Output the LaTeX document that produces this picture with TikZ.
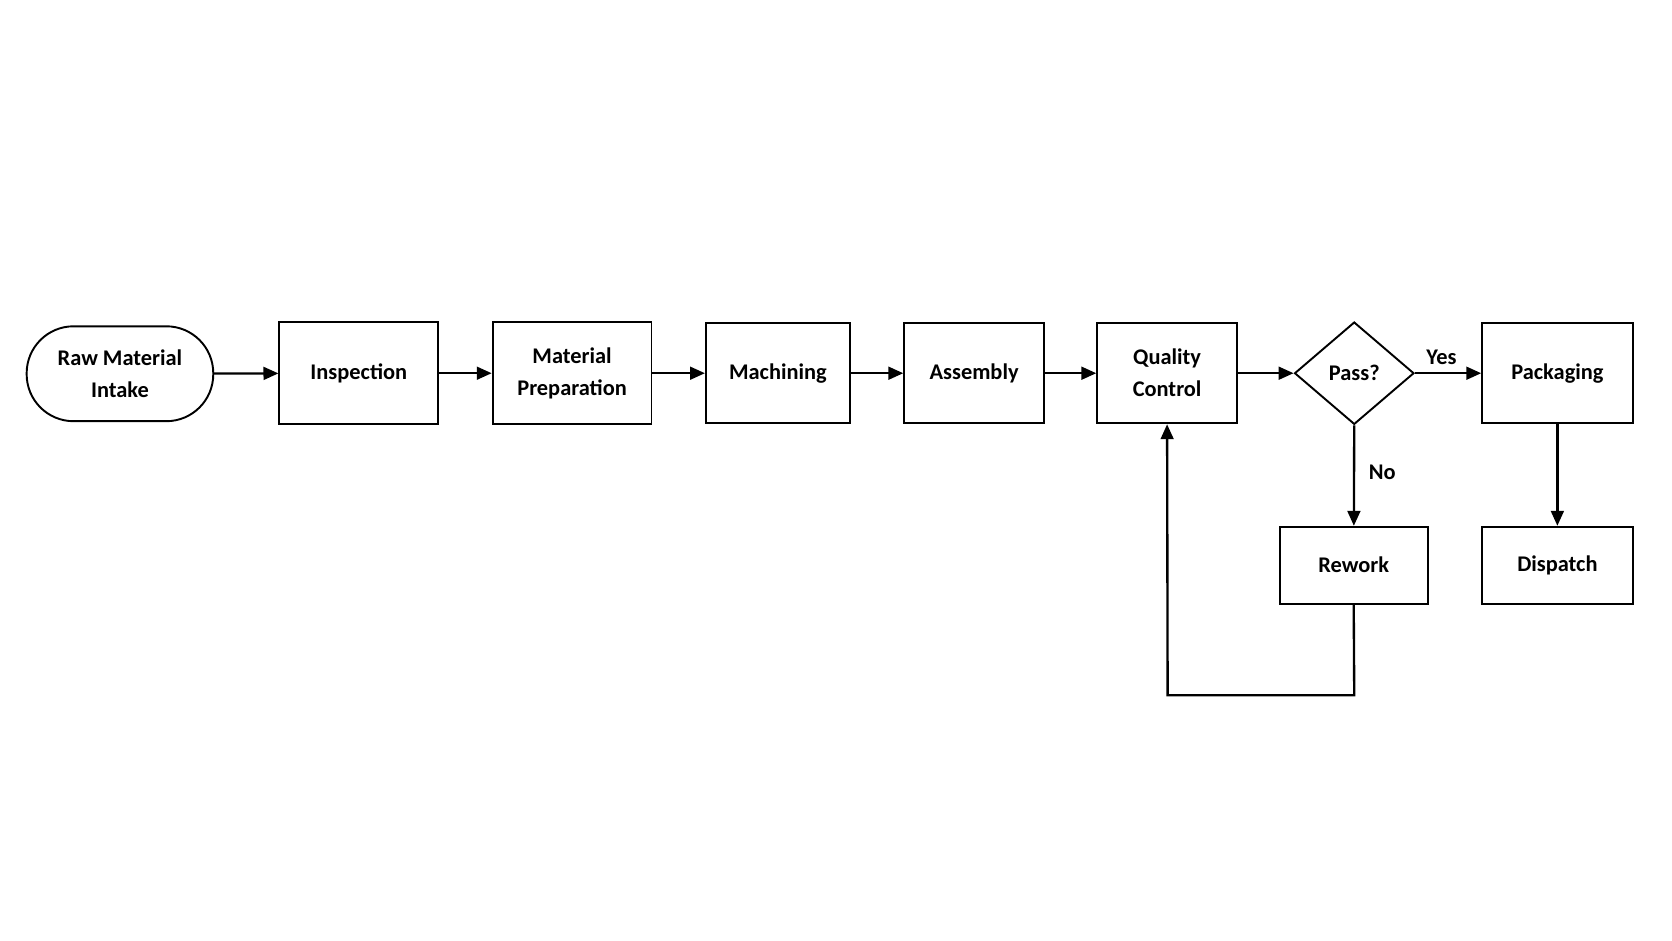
\documentclass[tikz,border=0pt]{standalone}
\usepackage{fontspec}
\setmainfont{Carlito}
\usetikzlibrary{shapes.geometric,arrows.meta}
\begin{document}
\begin{tikzpicture}[x=0.5pt,y=-0.5pt,
  box/.style={draw,line width=0.9pt,minimum width=#1,inner sep=0pt,align=center,font=\fontsize{10.5}{15}\selectfont\bfseries},
  arr/.style={line width=1.1pt,-{Triangle[length=7pt,width=6pt]}},
  lbl/.style={font=\fontsize{10.5}{13}\selectfont\bfseries}]
\useasboundingbox (0,0) rectangle (1568,882);
\fill[white] (0,0) rectangle (1568,882);
\node[box=87.5pt,minimum height=44.5pt,rounded corners=22pt] (raw) at (112.5,350.5) {Raw Material\\Intake};
\node[box=74.5pt,minimum height=48pt] (ins) at (336.5,350) {Inspection};
\node[box=74.5pt,minimum height=48pt] (prep) at (536.5,350) {Material\\Preparation};
\node[box=67.5pt,minimum height=47pt] (mach) at (729.5,350) {Machining};
\node[box=65.5pt,minimum height=47pt] (asm) at (913.5,350) {Assembly};
\node[box=65.5pt,minimum height=47pt] (qc) at (1094.5,350) {Quality\\Control};
\node[box=56pt,minimum height=48pt,diamond,aspect=1.17] (pass) at (1270,350) {};
\node[lbl] at (1270,350) {Pass?};
\node[box=70.5pt,minimum height=47pt] (pack) at (1460.5,350) {Packaging};
\node[box=69.5pt,minimum height=36pt] (rew) at (1269.5,530) {Rework};
\node[box=70.5pt,minimum height=36pt] (dis) at (1460.5,530) {Dispatch};
\coordinate (c1) at (1270,652);
\coordinate (c2) at (1095,652);
\draw[arr] (raw) -- (ins);
\draw[arr] (ins) -- (prep);
\draw[arr] (prep) -- (mach);
\draw[arr] (mach) -- (asm);
\draw[arr] (asm) -- (qc);
\draw[arr] (qc) -- (pass);
\draw[arr] (pass.east) -- node[lbl,above,pos=0.4]{Yes} (pack);
\draw[arr] (pass.south) -- node[lbl,right,pos=0.47,xshift=3pt]{No} (rew);
\draw[arr] (pack) -- (dis);
\draw[arr] (rew.south) -- (c1) -- (c2) -- (qc.south);
\end{tikzpicture}
\end{document}
